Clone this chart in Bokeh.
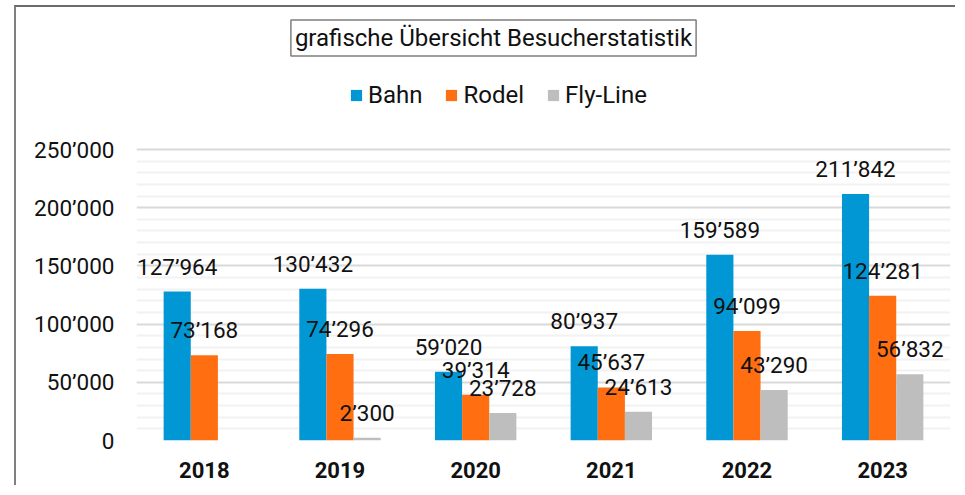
from bokeh.plotting import figure
from bokeh.models import (FactorRange, Range1d, FixedTicker, Label, Legend, LegendItem,
                          ColumnDataSource)
from bokeh.transform import dodge
from bokeh.core.properties import value
from bokeh.embed import file_html
from bokeh.resources import INLINE

nan = float("nan")

years = ["2018", "2019", "2020", "2021", "2022", "2023"]
series = ["Bahn", "Rodel", "Fly-Line"]
bahn = [127964, 130432, 59020, 80937, 159589, 211842]
rodel = [73168, 74296, 39314, 45637, 94099, 124281]
flyline = [nan, 2300, 23728, 24613, 43290, 56832]
y_ticks = [0, 50000, 100000, 150000, 200000, 250000]
y_tick_labels = ["0", "50’000", "100’000", "150’000", "200’000", "250’000"]
title_text = "grafische Übersicht Besucherstatistik"

colors = ["#0097d4", "#ff6e10", "#bdbebd"]
FONT = "Roboto"
FS = "22.5px"

# layout (pixels)
W, H = 941, 480
FRAME_LEFT, FRAME_RIGHT_PAD, FRAME_BOTTOM_PAD = 120, 7, 47
FRAME_H = H - FRAME_BOTTOM_PAD          # frame spans from top of canvas
AXIS_H = 291                            # pixels covered by 0..250000
y_max = y_ticks[-1] * FRAME_H / AXIS_H


def fmt(v):
    if v != v:
        return ""
    return f"{int(v):,}".replace(",", "’")


data = {"year": years}
for name, vals in zip(series, [bahn, rodel, flyline]):
    data[name] = vals
    data[name + "_lbl"] = [fmt(v) for v in vals]
src = ColumnDataSource(data)

p = figure(width=W, height=H, x_range=FactorRange(*years), y_range=Range1d(0, y_max),
           output_backend="svg", toolbar_location=None, title_location=None,
           min_border_left=FRAME_LEFT, min_border_right=FRAME_RIGHT_PAD,
           min_border_top=0, min_border_bottom=FRAME_BOTTOM_PAD)
p.styles = {"margin-left": "14px", "margin-top": "5px",
            "border-left": "2px solid #7f7f7f", "border-top": "2px solid #6b6b6b"}
p.outline_line_color = None
p.background_fill_color = "white"
p.border_fill_color = "white"

p.xgrid.grid_line_color = None
minor = [t for t in range(0, y_ticks[-1] + 1, 10000) if t % 50000]
p.ygrid.ticker = FixedTicker(ticks=y_ticks, minor_ticks=minor)
p.ygrid.grid_line_color = "#d9d9d9"
p.ygrid.grid_line_width = 2
p.ygrid.minor_grid_line_color = "#f2f2f2"
p.ygrid.minor_grid_line_width = 2

p.yaxis.ticker = FixedTicker(ticks=y_ticks)
p.yaxis.major_label_overrides = {t: l for t, l in zip(y_ticks, y_tick_labels)}
for ax in (p.xaxis, p.yaxis):
    ax.axis_line_color = None
    ax.major_tick_line_color = None
    ax.minor_tick_line_color = None
    ax.major_tick_out = 0
    ax.major_tick_in = 0
    ax.minor_tick_out = 0
    ax.major_label_text_font = FONT
    ax.major_label_text_font_size = FS
    ax.major_label_text_color = "#111111"
p.yaxis.major_label_standoff = 22
p.xaxis.major_label_standoff = 21
p.xaxis.major_label_text_font_size = "22px"
p.xaxis.major_label_text_font_style = "bold"

offsets = [-0.2, 0.0, 0.2]
renderers = []
for name, off, col in zip(series, offsets, colors):
    r = p.vbar(x=dodge("year", off, range=p.x_range), top=name, width=0.2, source=src,
               fill_color=col, line_color=None)
    renderers.append(r)
for name, off in zip(series, offsets):
    p.text(x=dodge("year", off, range=p.x_range), y=name, text=name + "_lbl", source=src,
           y_offset=-25, text_align="center", text_baseline="middle",
           text_font=value(FONT), text_font_size=FS, text_color="#111111")

title = Label(x=357, y=402.5, x_units="screen", y_units="screen", text=title_text,
              text_align="center", text_baseline="middle", text_font=FONT,
              text_font_size="24px", text_color="#111111",
              border_line_color="#7f7f7f", border_line_width=1.5, padding=4,
              background_fill_color="white")
p.add_layout(title)

legend = Legend(items=[LegendItem(label=n, renderers=[r]) for n, r in zip(series, renderers)],
                orientation="horizontal", location=(213, 331),
                glyph_width=14, glyph_height=14, label_text_font=FONT,
                label_text_font_size="24px", label_text_color="#111111",
                spacing=22, label_standoff=5, padding=0, margin=0,
                border_line_color=None, background_fill_alpha=0)
p.add_layout(legend, "center")

open("out.html", "w").write(file_html(p, INLINE))
